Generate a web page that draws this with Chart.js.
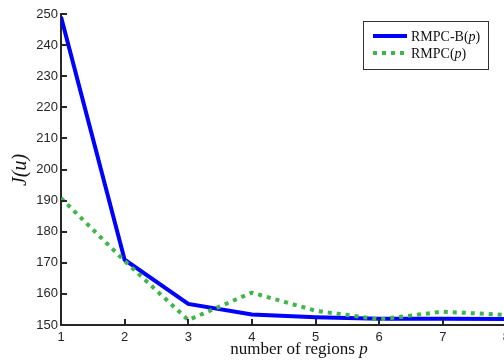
<!DOCTYPE html>
<html>
<head>
<meta charset="utf-8">
<script src="https://cdn.jsdelivr.net/npm/chart.js@4.4.0/dist/chart.umd.min.js"></script>
<style>
    html, body { margin: 0; padding: 0; background: #fff; overflow: hidden; }
    #wrap { position: relative; width: 515px; height: 362px; }
</style>
</head>
<body>
<div id="wrap"><canvas id="chart"></canvas></div>
<script>
// 데이터
const regions = [1, 2, 3, 4, 5, 6, 7, 8];
const rmpcB = [249.1, 171.0, 156.8, 153.4, 152.5, 152.0, 152.0, 151.9];
const rmpc = [190.8, 170.6, 151.6, 160.4, 154.6, 151.8, 154.3, 153.2];
const yTicks = [150, 160, 170, 180, 190, 200, 210, 220, 230, 240, 250];

const axisColor = '#262626';
const blue = '#0000ff';
const green = '#3fb54a';

function toPoints(values) {
    return regions.map((p, i) => ({ x: p, y: values[i] }));
}

// 안쪽 눈금 + 축 제목 + 범례
const decorPlugin = {
    id: 'decor',
    afterDraw(chart) {
        const ctx = chart.ctx;
        const area = chart.chartArea;
        const xs = chart.scales.x;
        const ys = chart.scales.y;

        ctx.save();
        ctx.strokeStyle = axisColor;
        ctx.lineWidth = 2;
        yTicks.forEach(v => {
            const py = Math.round(ys.getPixelForValue(v));
            ctx.beginPath();
            ctx.moveTo(area.left, py);
            ctx.lineTo(area.left + 6, py);
            ctx.stroke();
        });
        regions.forEach(v => {
            const px = Math.round(xs.getPixelForValue(v));
            ctx.beginPath();
            ctx.moveTo(px, area.bottom);
            ctx.lineTo(px, area.bottom - 6);
            ctx.stroke();
        });

        // x 제목
        ctx.fillStyle = '#111';
        ctx.textBaseline = 'alphabetic';
        const xFont = '17px "Liberation Serif", "Times New Roman", serif';
        const xFontI = 'italic 17px "Liberation Serif", "Times New Roman", serif';
        const t1 = 'number of regions ';
        ctx.font = xFont;
        const w1 = ctx.measureText(t1).width;
        ctx.font = xFontI;
        const w2 = ctx.measureText('p').width;
        let sx = 299 - (w1 + w2) / 2;
        ctx.font = xFont;
        ctx.textAlign = 'left';
        ctx.fillText(t1, sx, 354);
        ctx.font = xFontI;
        ctx.fillText('p', sx + w1, 354);

        // y 제목
        ctx.save();
        ctx.translate(21, 170);
        ctx.rotate(-Math.PI / 2);
        ctx.font = 'italic 20px "Liberation Serif", "Times New Roman", serif';
        ctx.textAlign = 'center';
        ctx.textBaseline = 'middle';
        ctx.fillText('J(u)', 0, 0);
        ctx.restore();

        // 범례
        const lx = 363, ly = 21, lw = 125, lh = 48;
        ctx.fillStyle = '#fff';
        ctx.fillRect(lx, ly, lw, lh);
        ctx.strokeStyle = '#333';
        ctx.lineWidth = 1;
        ctx.strokeRect(lx + 0.5, ly + 0.5, lw, lh);

        ctx.lineWidth = 4;
        ctx.strokeStyle = blue;
        ctx.setLineDash([]);
        ctx.beginPath();
        ctx.moveTo(373, 36);
        ctx.lineTo(407, 36);
        ctx.stroke();

        ctx.strokeStyle = green;
        ctx.setLineDash([4, 5]);
        ctx.beginPath();
        ctx.moveTo(373, 53);
        ctx.lineTo(407, 53);
        ctx.stroke();
        ctx.setLineDash([]);

        const lf = '14px "Liberation Serif", "Times New Roman", serif';
        const lfi = 'italic 14px "Liberation Serif", "Times New Roman", serif';
        ctx.fillStyle = '#111';
        ctx.textAlign = 'left';
        ctx.textBaseline = 'alphabetic';
        [['RMPC-B(', 41], ['RMPC(', 58]].forEach(([txt, by]) => {
            let x = 411;
            ctx.font = lf;
            ctx.fillText(txt, x, by);
            x += ctx.measureText(txt).width;
            ctx.font = lfi;
            ctx.fillText('p', x, by);
            x += ctx.measureText('p').width;
            ctx.font = lf;
            ctx.fillText(')', x, by);
        });
        ctx.restore();
    }
};

const ctx = document.getElementById('chart').getContext('2d');
new Chart(ctx, {
    type: 'line',
    data: {
        datasets: [
            {
                label: 'RMPC(p)',
                data: toPoints(rmpc),
                borderColor: green,
                borderWidth: 4,
                borderDash: [4, 5],
                pointRadius: 0,
                tension: 0,
                order: 0
            },
            {
                label: 'RMPC-B(p)',
                data: toPoints(rmpcB),
                borderColor: blue,
                borderWidth: 4,
                pointRadius: 0,
                tension: 0,
                order: 1
            }
        ]
    },
    options: {
        responsive: true,
        maintainAspectRatio: false,
        animation: false,
        layout: { padding: { top: 14, left: 0, right: 0, bottom: 0 } },
        plugins: {
            legend: { display: false },
            tooltip: { enabled: false }
        },
        scales: {
            x: {
                type: 'linear',
                min: 1,
                max: 8,
                afterFit: s => { s.height = 37; },
                grid: { display: false, drawTicks: false },
                border: { color: axisColor, width: 2 },
                ticks: {
                    stepSize: 1,
                    autoSkip: false,
                    maxRotation: 0,
                    padding: 5,
                    color: '#262626',
                    font: { family: '"Liberation Sans", Arial, sans-serif', size: 13 }
                }
            },
            y: {
                min: 150,
                max: 250,
                afterFit: s => { s.width = 61; },
                grid: { display: false, drawTicks: false },
                border: { color: axisColor, width: 2 },
                ticks: {
                    stepSize: 10,
                    padding: 3,
                    color: '#262626',
                    font: { family: '"Liberation Sans", Arial, sans-serif', size: 13 }
                }
            }
        }
    },
    plugins: [decorPlugin]
});
</script>
</body>
</html>
